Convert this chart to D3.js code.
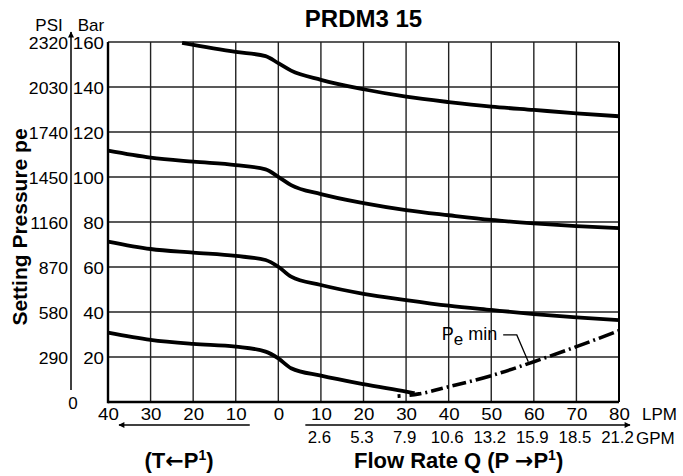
<!DOCTYPE html>
<html>
<head>
<meta charset="utf-8">
<script src="https://cdn.jsdelivr.net/npm/d3@7"></script>
<style>
  body { margin: 0; background: #fff; }
  svg { display: block; font-family: "Liberation Sans", Arial, sans-serif; }
</style>
</head>
<body>
<svg id="chart" width="683" height="476"></svg>
<script>
// axis ticks
const lpmTicks = [-40, -30, -20, -10, 0, 10, 20, 30, 40, 50, 60, 70, 80];
const gpmTicks = [10, 20, 30, 40, 50, 60, 70, 80];
const gpmLabels = ["2.6", "5.3", "7.9", "10.6", "13.2", "15.9", "18.5", "21.2"];
const barTicks = [20, 40, 60, 80, 100, 120, 140, 160];
const psiTicks = [290, 580, 870, 1160, 1450, 1740, 2030, 2320];

// setting curves, [flow LPM (negative = T<-P1), pressure bar]
const curveTop = [[-22.6, 159.6], [-10, 155.6], [-3, 153.7], [0, 150.6], [3, 147.3], [10, 143.2], [20, 139.0],
  [30, 135.7], [40, 133.3], [50, 131.3], [60, 129.8], [70, 128.3], [80, 127.0]];
const curveSecond = [[-40, 111.7], [-30, 108.6], [-20, 106.8], [-10, 105.3], [-3, 103.4], [0, 100.1], [3, 96.4],
  [10, 92.4], [20, 88.4], [30, 85.3], [40, 83.0], [50, 80.9], [60, 79.4], [70, 78.2], [80, 77.3]];
const curveThird = [[-40, 71.3], [-30, 68.0], [-20, 66.4], [-10, 64.9], [-3, 63.1], [0, 60.1], [3, 55.7],
  [10, 52.0], [20, 48.1], [30, 45.3], [40, 42.8], [50, 40.9], [60, 39.1], [70, 37.6], [80, 36.4]];
const curveBottom = [[-40, 30.8], [-30, 27.6], [-20, 25.8], [-10, 24.6], [-3, 22.4], [0, 19.4], [3, 15.0],
  [10, 11.7], [20, 7.9], [30, 4.6], [32, 3.9]];
const peMin = [[28, 2.6], [33, 3.6], [40, 6.8], [50, 11.7], [60, 17.9], [70, 24.6], [80, 31.7]];

const svg = d3.select("#chart");
const font = '"Liberation Sans", Arial, sans-serif';

const x = d3.scaleLinear().domain([-40, 80]).range([108, 619]);
const y = d3.scaleLinear().domain([0, 160]).range([402, 42]);
const psi = d3.scaleLinear().domain([0, 2320]).range([402, 42]);

// widen text a bit, the original lettering is broader than Arial
function stretch(sel, k) {
  sel.each(function() {
    const w = this.getComputedTextLength();
    d3.select(this).attr("textLength", w * k).attr("lengthAdjust", "spacingAndGlyphs");
  });
}

svg.append("defs").append("marker")
  .attr("id", "head")
  .attr("viewBox", "0 0 10 10")
  .attr("refX", 9).attr("refY", 5)
  .attr("markerWidth", 7).attr("markerHeight", 6)
  .attr("markerUnits", "userSpaceOnUse")
  .attr("orient", "auto")
  .append("path").attr("d", "M0,0L10,5L0,10Z").attr("fill", "#000");

// grid
const grid = svg.append("g");
grid.selectAll(".v").data(lpmTicks).join("line")
  .attr("x1", d => x(d)).attr("x2", d => x(d))
  .attr("y1", y(160)).attr("y2", y(0))
  .attr("stroke", "#222").attr("stroke-width", 1.4);
grid.selectAll(".h").data(barTicks).join("line")
  .attr("x1", x(-40)).attr("x2", x(80))
  .attr("y1", d => y(d)).attr("y2", d => y(d))
  .attr("stroke", "#222").attr("stroke-width", 1.4);

// frame
svg.append("line").attr("x1", x(-40)).attr("x2", x(80)).attr("y1", y(0)).attr("y2", y(0))
  .attr("stroke", "#000").attr("stroke-width", 2.4);
svg.append("line").attr("x1", x(-40)).attr("x2", x(-40)).attr("y1", y(160)).attr("y2", y(0) + 1.2)
  .attr("stroke", "#000").attr("stroke-width", 2.4);
svg.append("line").attr("x1", x(80)).attr("x2", x(80)).attr("y1", y(160)).attr("y2", y(0))
  .attr("stroke", "#000").attr("stroke-width", 2);

// curves
const line = d3.line().x(d => x(d[0])).y(d => y(d[1])).curve(d3.curveMonotoneX);
svg.selectAll(".curve").data([curveTop, curveSecond, curveThird, curveBottom]).join("path")
  .attr("d", line)
  .attr("fill", "none").attr("stroke", "#000").attr("stroke-width", 3.8)
  .attr("stroke-linecap", "butt");

svg.append("path").datum(peMin)
  .attr("d", line)
  .attr("fill", "none").attr("stroke", "#000").attr("stroke-width", 3.6)
  .attr("stroke-dasharray", "3,9,12,4,2,4,12,4,2,4,14,4,2,4,16,4,2,4,16,4,2,4,16,4,2,4,16,4,2,4,16,4,2,4,16,4,2,4,16,4,2,4,16,4,2,4,16,4,2,4");

// Pe min label + leader
const pe = svg.append("text")
  .attr("x", x(38.4)).attr("y", y(27.6))
  .attr("font-family", font).attr("font-size", 18);
pe.append("tspan").text("P");
pe.append("tspan").attr("dy", 5).attr("font-size", 17).text("e");
pe.append("tspan").attr("dy", -5).text(" min");

svg.append("path").datum([[52.8, 29.8], [56.0, 29.8], [58.7, 17.9]])
  .attr("d", d3.line().x(d => x(d[0])).y(d => y(d[1])))
  .attr("fill", "none").attr("stroke", "#000").attr("stroke-width", 1.3);

// Bar axis
const barAxis = svg.append("g")
  .attr("transform", `translate(${x(-40)},1)`)
  .call(d3.axisLeft(y).tickValues(barTicks).tickSize(0).tickPadding(4));
barAxis.select(".domain").remove();
barAxis.selectAll("text").attr("font-size", 17).attr("font-family", font).attr("fill", "#000");
stretch(barAxis.selectAll("text"), 1.1);

// PSI axis
const psiAxis = svg.append("g")
  .attr("transform", "translate(70,1)")
  .call(d3.axisLeft(psi).tickValues(psiTicks).tickSize(0).tickPadding(2).tickFormat(d3.format("d")));
psiAxis.select(".domain").remove();
psiAxis.selectAll("text").attr("font-size", 16).attr("font-family", font).attr("fill", "#000");
stretch(psiAxis.selectAll("text"), 1.1);

svg.append("line")
  .attr("x1", 71).attr("x2", 71)
  .attr("y1", psi(0) - 12).attr("y2", psi(2320) - 10)
  .attr("stroke", "#000").attr("stroke-width", 1.5)
  .attr("marker-end", "url(#head)");

svg.append("text").attr("x", 73).attr("y", 409)
  .attr("text-anchor", "middle").attr("font-family", font).attr("font-size", 17).text("0");

svg.append("text").attr("x", 49).attr("y", 31)
  .attr("text-anchor", "middle").attr("font-family", font).attr("font-size", 17).text("PSI");
svg.append("text").attr("x", 91).attr("y", 31)
  .attr("text-anchor", "middle").attr("font-family", font).attr("font-size", 17).text("Bar");

// LPM axis
const lpmAxis = svg.append("g")
  .attr("transform", `translate(0,${y(0)})`)
  .call(d3.axisBottom(x).tickValues(lpmTicks).tickSize(0).tickPadding(6).tickFormat(d => Math.abs(d)));
lpmAxis.select(".domain").remove();
lpmAxis.selectAll("text").attr("font-size", 17).attr("font-family", font).attr("fill", "#000")
  .attr("dy", "0.7em");
stretch(lpmAxis.selectAll("text"), 1.1);

// GPM axis
const gpmAxis = svg.append("g")
  .attr("transform", `translate(0,${y(0) + 25})`)
  .call(d3.axisBottom(x).tickValues(gpmTicks).tickSize(0).tickPadding(5).tickFormat((d, i) => gpmLabels[i]));
gpmAxis.select(".domain").remove();
gpmAxis.selectAll("text").attr("font-size", 16).attr("font-family", font).attr("fill", "#000")
  .attr("dy", "0.7em").attr("dx", -2);
stretch(gpmAxis.selectAll("text"), 1.05);

svg.append("text").attr("x", 642).attr("y", 420)
  .attr("font-family", font).attr("font-size", 17).text("LPM");
svg.append("text").attr("x", 636).attr("y", 444)
  .attr("font-family", font).attr("font-size", 17).text("GPM");

// direction arrows
svg.append("line").attr("x1", x(-10) + 14).attr("x2", x(-40) + 11)
  .attr("y1", 425).attr("y2", 425)
  .attr("stroke", "#000").attr("stroke-width", 1.5).attr("marker-end", "url(#head)");
svg.append("line").attr("x1", x(0) + 27).attr("x2", x(80) + 11)
  .attr("y1", 425).attr("y2", 425)
  .attr("stroke", "#000").attr("stroke-width", 1.5).attr("marker-end", "url(#head)");

// titles
svg.append("text").attr("x", (x(-40) + x(80)) / 2).attr("y", 27)
  .attr("text-anchor", "middle").attr("font-family", font).attr("font-weight", "bold")
  .attr("font-size", 24).text("PRDM3 15");

svg.append("text")
  .attr("transform", "translate(27,227) rotate(-90)")
  .attr("text-anchor", "middle").attr("font-family", font).attr("font-weight", "bold")
  .attr("font-size", 21).text("Setting Pressure pe");

const tl = svg.append("text").attr("x", 179).attr("y", 468)
  .attr("text-anchor", "middle").attr("font-family", font).attr("font-weight", "bold").attr("font-size", 22);
tl.append("tspan").text("(T");
tl.append("tspan").attr("font-family", "DejaVu Sans").attr("font-size", 22).text("\u2190");
tl.append("tspan").text("P");
tl.append("tspan").attr("dy", -8).attr("font-size", 14).text("1");
tl.append("tspan").attr("dy", 8).text(")");

const fr = svg.append("text").attr("x", 354).attr("y", 468)
  .attr("font-family", font).attr("font-weight", "bold").attr("font-size", 22);
fr.append("tspan").text("Flow Rate Q (P ");
fr.append("tspan").attr("font-family", "DejaVu Sans").attr("font-size", 22).text("\u2192");
fr.append("tspan").text("P");
fr.append("tspan").attr("dy", -8).attr("font-size", 14).text("1");
fr.append("tspan").attr("dy", 8).text(")");
</script>
</body>
</html>
